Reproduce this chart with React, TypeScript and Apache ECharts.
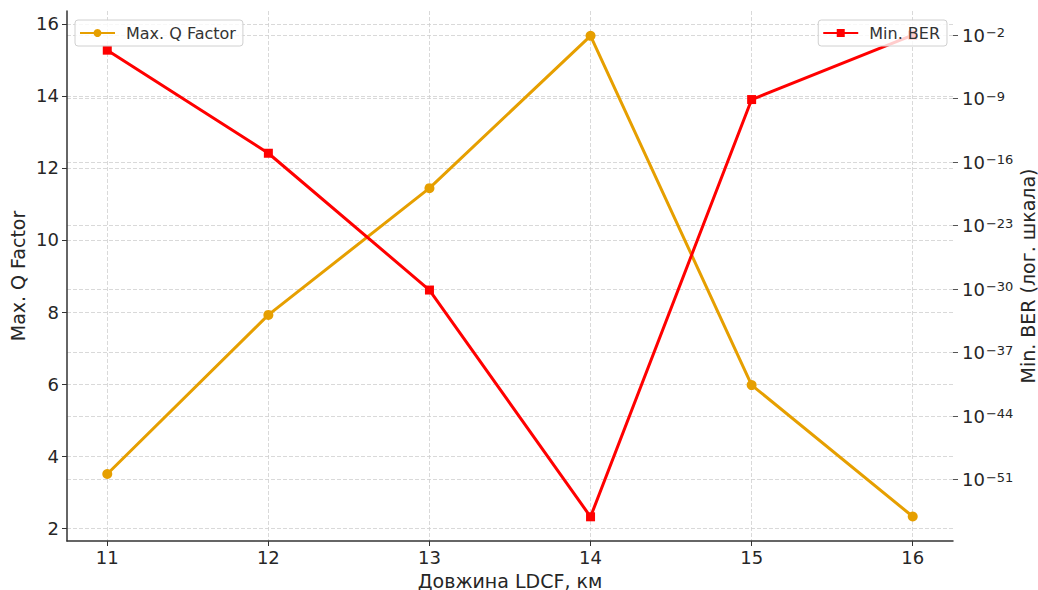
import React, { useEffect, useRef } from "react";
import * as echarts from "echarts";

const distances = [11, 12, 13, 14, 15, 16];
const qFactor = [3.5, 7.92, 11.44, 15.67, 5.97, 2.32];
const berValues = [2.2e-4, 9.5e-16, 7.9e-31, 7.9e-56, 7.9e-10, 1e-2];
const xTicks = [11, 12, 13, 14, 15, 16];
const qTicks = [2, 4, 6, 8, 10, 12, 14, 16];
const berTicks = [1e-2, 1e-9, 1e-16, 1e-23, 1e-30, 1e-37, 1e-44, 1e-51];

const FONT = "DejaVu Sans";
const TXT = "#262626";
const GRID = { show: true, lineStyle: { color: "#cfcfcf", type: [4, 2] as any, width: 0.8 } };

export default function App() {
  const ref = useRef<HTMLDivElement>(null);
  useEffect(() => {
    const chart = echarts.init(ref.current!, null, { renderer: "svg" });
    const legendCommon = {
      top: 20,
      backgroundColor: "rgba(255,255,255,0.8)",
      borderColor: "#d0d0d0",
      borderWidth: 1,
      borderRadius: 3,
      padding: [5, 7, 5, 4],
      itemWidth: 35,
      itemHeight: 10,
      itemGap: 10,
      textStyle: { fontFamily: FONT, fontSize: 16, color: "#333", padding: [0, 0, 0, 6] },
    };
    chart.setOption({
      animation: false,
      backgroundColor: "#fff",
      textStyle: { fontFamily: FONT },
      grid: { left: 67, right: 85, top: 11, bottom: 49, containLabel: false, outerBoundsMode: "none" },
      legend: [
        { ...legendCommon, data: ["Max. Q Factor"], left: 75 },
        { ...legendCommon, data: ["Min. BER"], right: 91 },
      ],
      xAxis: {
        type: "value",
        min: 10.75,
        max: 16.25,
        name: "Довжина LDCF, км",
        nameLocation: "middle",
        nameGap: 30,
        nameMoveOverlap: false,
        nameTextStyle: { fontFamily: FONT, fontSize: 19, color: TXT },
        axisLine: { show: true, lineStyle: { color: "#333", width: 1.5 } },
        axisTick: { show: true, length: 5, lineStyle: { color: "#333" }, customValues: xTicks },
        axisLabel: { customValues: xTicks, fontFamily: FONT, fontSize: 18, color: TXT, margin: 7 },
        splitLine: GRID,
      },
      yAxis: [
        {
          type: "value",
          min: 1.64,
          max: 16.36,
          name: "Max. Q Factor",
          nameLocation: "middle",
          nameRotate: 90,
          nameGap: 40,
          nameMoveOverlap: false,
          nameTextStyle: { fontFamily: FONT, fontSize: 19, color: TXT },
          axisLine: { show: true, lineStyle: { color: "#333", width: 1.5 } },
          axisTick: { show: true, length: 5, lineStyle: { color: "#333" }, customValues: qTicks },
          axisLabel: { customValues: qTicks, fontFamily: FONT, fontSize: 18, color: TXT, margin: 8 },
          splitLine: GRID,
        },
        {
          type: "log",
          position: "right",
          logBase: 10,
          min: Math.pow(10, -57.77),
          max: Math.pow(10, 0.66),
          name: "Min. BER (лог. шкала)",
          nameLocation: "middle",
          nameRotate: 90,
          nameGap: 65,
          nameMoveOverlap: false,
          nameTextStyle: { fontFamily: FONT, fontSize: 19, color: TXT },
          axisLine: { show: false },
          axisTick: { show: true, length: 5, lineStyle: { color: "#555" }, customValues: berTicks },
          axisLabel: {
            customValues: berTicks,
            margin: 9,
            formatter: (v: number) => `{b|10}{s|−${Math.round(-Math.log10(v))}}`,
            rich: {
              b: { fontFamily: FONT, fontSize: 18, color: TXT, verticalAlign: "bottom", lineHeight: 18, padding: [3, 0, 0, 0] },
              s: { fontFamily: FONT, fontSize: 13, color: TXT, verticalAlign: "top", lineHeight: 13, padding: [0, 0, 0, 1] },
            },
          },
          splitLine: GRID,
        },
      ],
      series: [
        {
          name: "Max. Q Factor",
          type: "line",
          yAxisIndex: 0,
          data: distances.map((d, i) => [d, qFactor[i]]),
          symbol: "circle",
          symbolSize: 10,
          itemStyle: { color: "#E69F00" },
          lineStyle: { color: "#E69F00", width: 3 },
          z: 3,
        },
        {
          name: "Min. BER",
          type: "line",
          yAxisIndex: 1,
          data: distances.map((d, i) => [d, berValues[i]]),
          symbol: "rect",
          symbolSize: 9,
          itemStyle: { color: "#FF0000" },
          lineStyle: { color: "#FF0000", width: 3 },
          z: 3,
        },
      ],
    });
    return () => chart.dispose();
  }, []);
  return (
    <div
      ref={ref}
      style={{ position: "fixed", left: 0, top: 0, width: 1038, height: 590 }}
    />
  );
}
